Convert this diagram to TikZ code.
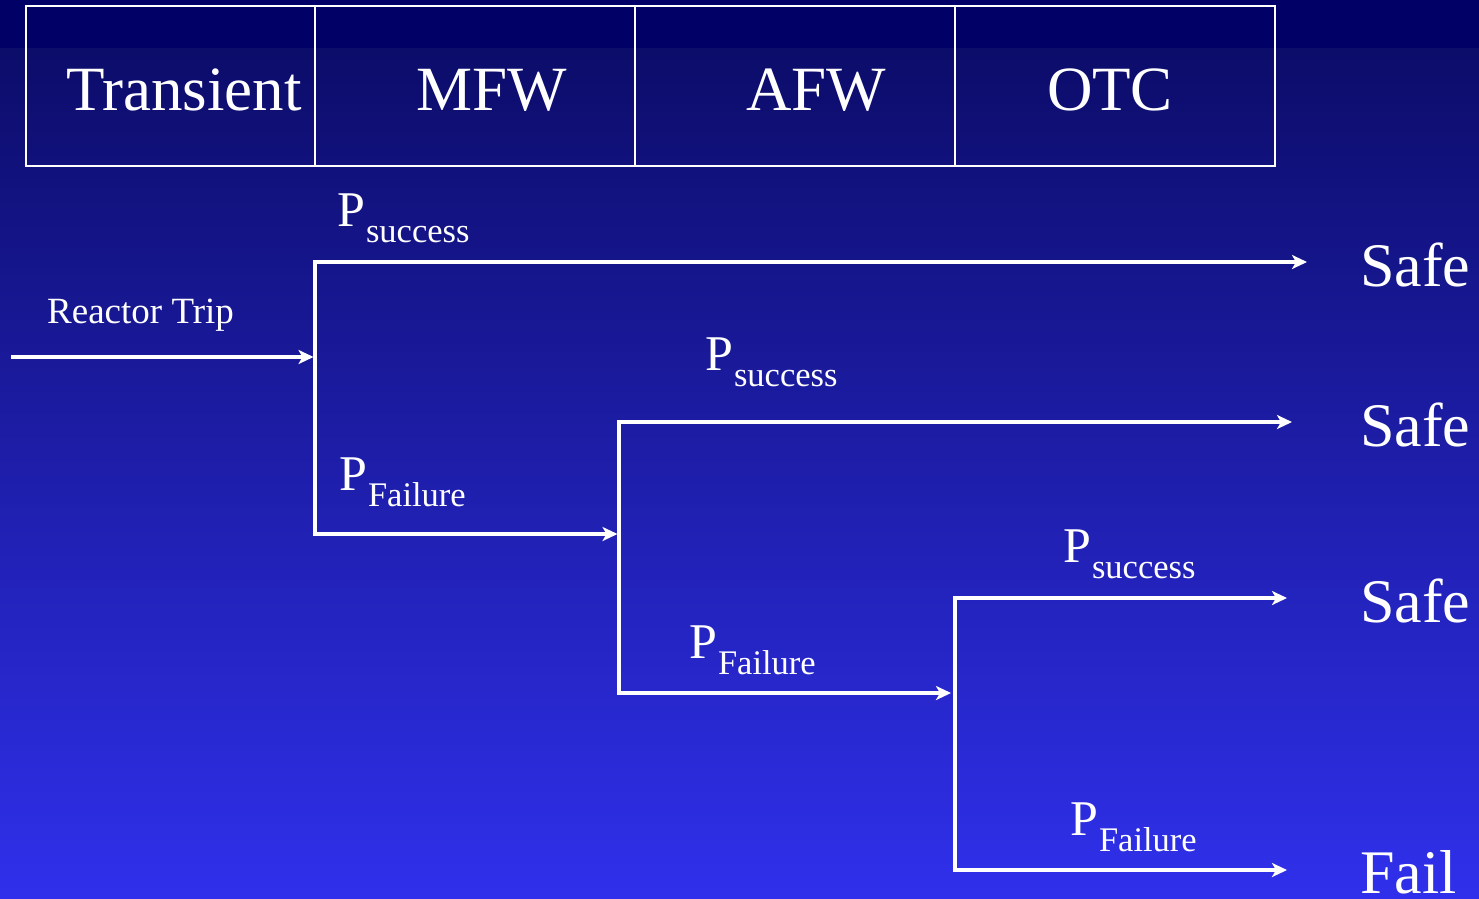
\documentclass[tikz,border=0pt]{standalone}
\usepackage{fontspec}
\setmainfont{Liberation Serif}
\usetikzlibrary{arrows.meta}
\definecolor{bandtop}{RGB}{0,0,102}
\definecolor{gradtop}{RGB}{12,12,106}
\definecolor{gradbot}{RGB}{48,48,236}
\newcommand{\fsz}[1]{\fontsize{#1}{#1}\selectfont}
\newcommand{\prob}[1]{{\fsz{50}P}\hspace{1pt}\raisebox{-16pt}{\fsz{34.5}#1}}
\tikzset{
  wline/.style={draw=white, line width=3.8pt},
  warrow/.style={draw=white, line width=3.8pt, -{Stealth[length=15pt,width=14pt,inset=4pt]}},
  hdr/.style={text=white, font=\fsz{63}, inner sep=0pt, anchor=base},
  outc/.style={text=white, font=\fsz{62}, inner sep=0pt, anchor=base west},
  plabel/.style={text=white, inner sep=0pt, anchor=base west},
  hbox/.style={draw=white, line width=2.5pt},
}
\begin{document}
\begin{tikzpicture}[x=1pt,y=-1pt]
\useasboundingbox (0,0) rectangle (1479,898);
% background
\shade[top color=gradtop, bottom color=gradbot] (0,48) rectangle (1479,898);
\fill[bandtop] (0,0) rectangle (1479,48);
% header
\draw[hbox] (26,6) rectangle (1275,166);
\draw[hbox] (315,6) -- (315,166);
\draw[hbox] (635,6) -- (635,166);
\draw[hbox] (955,6) -- (955,166);
\node[hdr] (hT) at (184,110) {Transient};
\node[hdr] (hM) at (492,110) {MFW};
\node[hdr] (hA) at (816,110) {AFW};
\node[hdr] (hO) at (1110,110) {OTC};
% coordinates
\coordinate (in) at (11,357);
\coordinate (j1) at (315,357);
\coordinate (j1t) at (315,262);
\coordinate (j1b) at (315,534);
\coordinate (j2) at (619,534);
\coordinate (j2t) at (619,422);
\coordinate (j2b) at (619,693);
\coordinate (j3) at (955,693);
\coordinate (j3t) at (955,598);
\coordinate (j3b) at (955,870);
\coordinate (e1) at (1307,262);
\coordinate (e2) at (1292,422);
\coordinate (e3) at (1287,598);
\coordinate (e4) at (1287,870);
% outcomes
\node[outc] (o1) at (1360,286) {Safe};
\node[outc] (o2) at (1360,446) {Safe};
\node[outc] (o3) at (1360,622) {Safe};
\node[outc] (o4) at (1360,893) {Fail};
% labels
\node[plabel, font=\fsz{37}] (rt) at (47,323) {Reactor Trip};
\node[plabel] (p1) at (337,226) {\prob{success}};
\node[plabel] (p2) at (705,370) {\prob{success}};
\node[plabel] (p3) at (1063,562) {\prob{success}};
\node[plabel] (f1) at (339,490) {\prob{Failure}};
\node[plabel] (f2) at (689,658) {\prob{Failure}};
\node[plabel] (f3) at (1070,835) {\prob{Failure}};
% tree
\draw[warrow] (in) -- ([xshift=-1.5pt]j1);
\draw[wline] (j1t) -- (j1b);
\draw[warrow] ([xshift=-1.9pt]j1t) -- (e1);
\draw[warrow] ([xshift=-1.9pt]j1b) -- ([xshift=-1.5pt]j2);
\draw[wline] (j2t) -- (j2b);
\draw[warrow] ([xshift=-1.9pt]j2t) -- (e2);
\draw[warrow] ([xshift=-1.9pt]j2b) -- ([xshift=-4pt]j3);
\draw[wline] (j3t) -- (j3b);
\draw[warrow] ([xshift=-1.9pt]j3t) -- (e3);
\draw[warrow] ([xshift=-1.9pt]j3b) -- (e4);
\end{tikzpicture}
\end{document}
